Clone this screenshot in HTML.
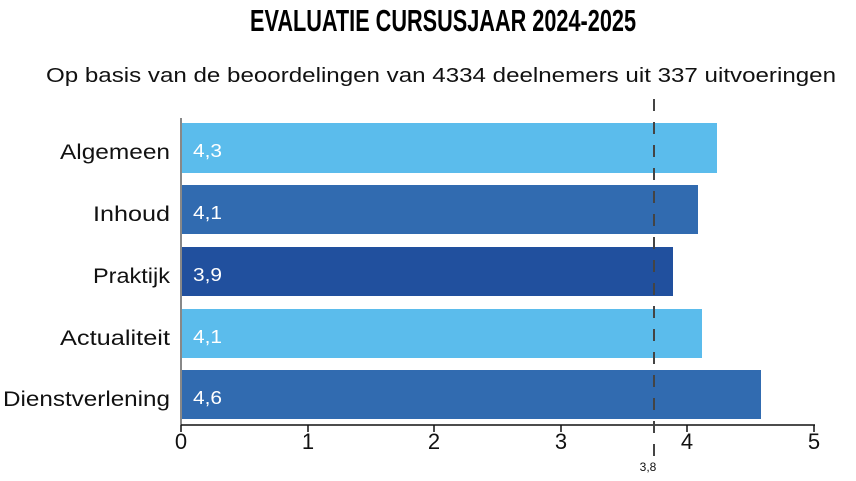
<!DOCTYPE html>
<html><head><meta charset="utf-8"><style>
body{margin:0;background:#fff;width:856px;height:476px;overflow:hidden}
</style></head><body>
<svg width="856" height="476" xmlns="http://www.w3.org/2000/svg" font-family="Liberation Sans, sans-serif">
<text x="443" y="31" text-anchor="middle" font-family="Liberation Sans Narrow, Liberation Sans, sans-serif" font-weight="bold" font-size="31" textLength="386" lengthAdjust="spacingAndGlyphs" fill="#000">EVALUATIE CURSUSJAAR 2024-2025</text>
<text x="441" y="82" text-anchor="middle" font-size="20" textLength="790" lengthAdjust="spacingAndGlyphs" fill="#111">Op basis van de beoordelingen van 4334 deelnemers uit 337 uitvoeringen</text>
<g>
<rect x="181" y="123" width="536" height="50" fill="#5bbcec"/>
<rect x="181" y="185" width="517" height="49" fill="#316bb0"/>
<rect x="181" y="247" width="492" height="49" fill="#21509e"/>
<rect x="181" y="309" width="521" height="49" fill="#5bbcec"/>
<rect x="181" y="370" width="580" height="49" fill="#316bb0"/>
</g>
<g font-size="18" fill="#fff">
<text x="193" y="157" textLength="29" lengthAdjust="spacingAndGlyphs">4,3</text>
<text x="193" y="219" textLength="29" lengthAdjust="spacingAndGlyphs">4,1</text>
<text x="193" y="281" textLength="29" lengthAdjust="spacingAndGlyphs">3,9</text>
<text x="193" y="343" textLength="29" lengthAdjust="spacingAndGlyphs">4,1</text>
<text x="193" y="404" textLength="29" lengthAdjust="spacingAndGlyphs">4,6</text>
</g>
<g font-size="21" fill="#111">
<text x="60" y="159" textLength="110" lengthAdjust="spacingAndGlyphs">Algemeen</text>
<text x="93" y="221" textLength="77" lengthAdjust="spacingAndGlyphs">Inhoud</text>
<text x="93" y="283" textLength="77" lengthAdjust="spacingAndGlyphs">Praktijk</text>
<text x="60" y="345" textLength="110" lengthAdjust="spacingAndGlyphs">Actualiteit</text>
<text x="3" y="406" textLength="167" lengthAdjust="spacingAndGlyphs">Dienstverlening</text>
</g>
<line x1="181" y1="118" x2="181" y2="425" stroke="#888" stroke-width="2"/>
<line x1="181" y1="425" x2="815" y2="425" stroke="#111" stroke-width="1.5"/>
<g stroke="#111" stroke-width="1.5">
<line x1="181" y1="425" x2="181" y2="432"/><line x1="308" y1="425" x2="308" y2="432"/><line x1="434" y1="425" x2="434" y2="432"/><line x1="561" y1="425" x2="561" y2="432"/><line x1="687" y1="425" x2="687" y2="432"/><line x1="814" y1="425" x2="814" y2="432"/>
</g>
<g font-size="22" fill="#111" text-anchor="middle">
<text x="181" y="449">0</text><text x="308" y="449">1</text><text x="434" y="449">2</text><text x="561" y="449">3</text><text x="687" y="449">4</text><text x="814" y="449">5</text>
</g>
<line x1="654" y1="99" x2="654" y2="458" stroke="#444" stroke-width="2" stroke-dasharray="12,11"/>
<text x="648" y="471" font-size="12" fill="#111" text-anchor="middle">3,8</text>
</svg>
</body></html>
